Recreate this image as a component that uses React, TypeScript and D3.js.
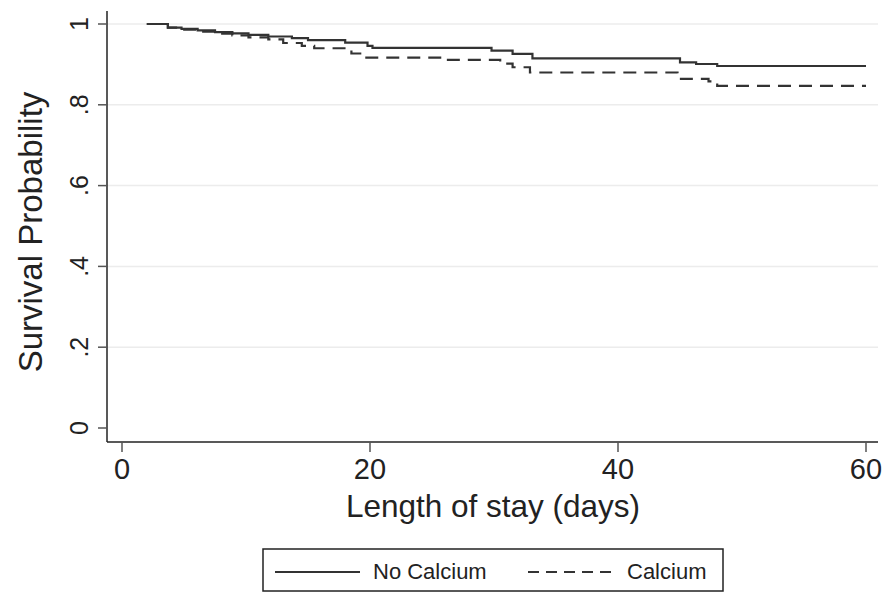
import * as d3 from 'd3'

// Kaplan-Meier step points
const noCalciumDays = [2, 3.7, 4.8, 6.1, 7.5, 8.9, 10.2, 11.8, 13.7, 15, 18, 19.8, 20.2, 29.8, 31.5, 33.1, 45, 46.3, 48, 60]
const noCalciumSurv = [1.0, 0.991, 0.988, 0.984, 0.98, 0.977, 0.973, 0.969, 0.965, 0.96, 0.954, 0.946, 0.941, 0.934, 0.926, 0.915, 0.905, 0.901, 0.896, 0.896]

const calciumDays = [2, 3.7, 4.8, 6.1, 7.5, 8.9, 10.2, 11.8, 13, 14.5, 15.5, 18.5, 19.6, 25.8, 30.5, 31.5, 32.9, 44.8, 47.3, 48, 60]
const calciumSurv = [1.0, 0.991, 0.986, 0.981, 0.976, 0.972, 0.967, 0.962, 0.953, 0.946, 0.94, 0.927, 0.917, 0.911, 0.902, 0.893, 0.88, 0.864, 0.858, 0.847, 0.847]

const xTicks = [0, 20, 40, 60]
const yTicks = [0, 0.2, 0.4, 0.6, 0.8, 1]
const yTickLabels = ['0', '.2', '.4', '.6', '.8', '1']

const W = 885
const H = 593
const plot = { left: 107, right: 878, top: 11, bottom: 442 }
const font = '"Liberation Sans", Arial, Helvetica, sans-serif'
const ink = '#222'

const x = d3.scaleLinear().domain([0, 60]).range([122, 866])
const y = d3.scaleLinear().domain([0, 1]).range([428, 24])

const line = d3.line<[number, number]>()
  .x(d => x(d[0]))
  .y(d => y(d[1]))
  .curve(d3.curveStepAfter)

const noCalcium = noCalciumDays.map((d, i) => [d, noCalciumSurv[i]] as [number, number])
const calcium = calciumDays.map((d, i) => [d, calciumSurv[i]] as [number, number])

export default function App() {
  return (
    <svg width={W} height={H} style={{ position: 'absolute', left: 0, top: 0, background: '#fff' }} fontFamily={font}>
      {/* gridlines */}
      {yTicks.filter(t => t > 0).map(t => (
        <line key={'g' + t} x1={plot.left} x2={plot.right} y1={y(t)} y2={y(t)} stroke="#ececec" strokeWidth={1.5} />
      ))}

      {/* survival curves */}
      <path d={line(noCalcium) || ''} fill="none" stroke="#333" strokeWidth={2.2} />
      <path d={line(calcium) || ''} fill="none" stroke="#333" strokeWidth={2.2} strokeDasharray="13 8" />

      {/* y axis */}
      <line x1={plot.left} x2={plot.left} y1={plot.top} y2={plot.bottom} stroke={ink} strokeWidth={1.5} />
      {yTicks.map((t, i) => (
        <g key={'y' + t}>
          <line x1={plot.left - 9} x2={plot.left} y1={y(t)} y2={y(t)} stroke="#555" strokeWidth={1.5} />
          <text transform={`translate(88,${y(t)}) rotate(-90)`} textAnchor="middle" fontSize={25} fill={ink}>
            {yTickLabels[i]}
          </text>
        </g>
      ))}
      <text transform={`translate(42,232) rotate(-90)`} textAnchor="middle" fontSize={33} fill={ink}>
        Survival Probability
      </text>

      {/* x axis */}
      <line x1={plot.left} x2={plot.right} y1={plot.bottom} y2={plot.bottom} stroke={ink} strokeWidth={1.5} />
      {xTicks.map(t => (
        <g key={'x' + t}>
          <line x1={x(t)} x2={x(t)} y1={plot.bottom} y2={plot.bottom + 10} stroke="#555" strokeWidth={1.5} />
          <text x={x(t)} y={479} textAnchor="middle" fontSize={29} fill={ink}>{t}</text>
        </g>
      ))}
      <text x={493} y={517} textAnchor="middle" fontSize={31.5} fill={ink}>Length of stay (days)</text>

      {/* legend */}
      <rect x={263} y={549} width={460} height={42} fill="#fff" stroke={ink} strokeWidth={1.5} />
      <line x1={275} x2={360} y1={572} y2={572} stroke="#333" strokeWidth={2} />
      <text x={373} y={579} fontSize={22} fill={ink}>No Calcium</text>
      <line x1={528} x2={617} y1={572} y2={572} stroke="#333" strokeWidth={2} strokeDasharray="11 7" />
      <text x={627} y={579} fontSize={22} fill={ink}>Calcium</text>
    </svg>
  )
}
